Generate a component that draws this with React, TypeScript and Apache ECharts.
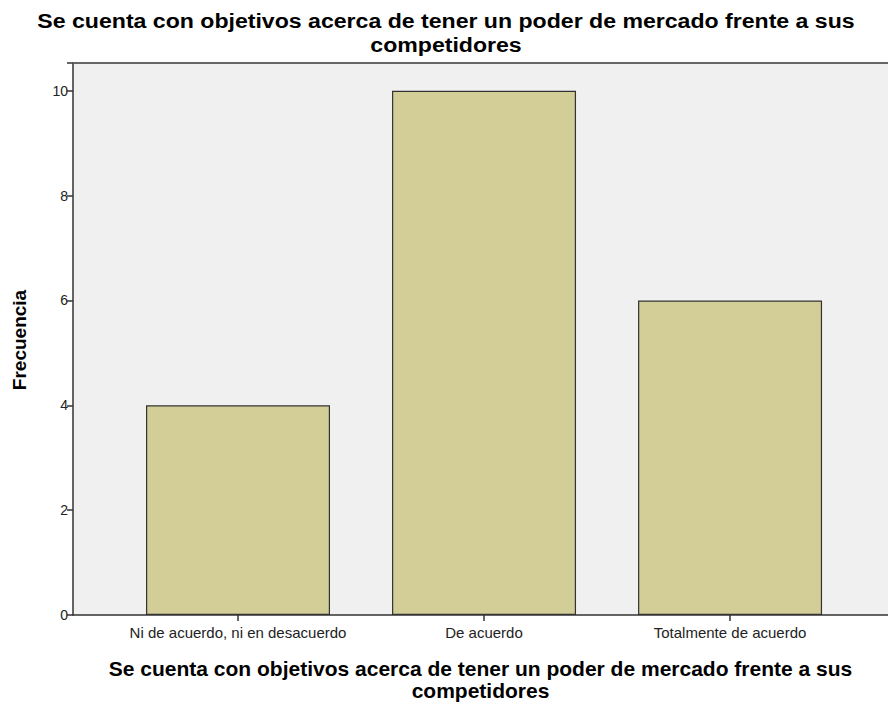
import React, { useEffect, useRef } from "react";
import * as echarts from "echarts";

const titleText = "Se cuenta con objetivos acerca de tener un poder de mercado frente a sus\ncompetidores";
const xAxisTitle = "Se cuenta con objetivos acerca de tener un poder de mercado frente a sus\ncompetidores";
const yAxisTitle = "Frecuencia";
const categories = ["Ni de acuerdo, ni en desacuerdo", "De acuerdo", "Totalmente de acuerdo"];
const frequencies = [4, 10, 6];
const yTicks = [0, 2, 4, 6, 8, 10];

export default function App() {
  const ref = useRef<HTMLDivElement>(null);
  useEffect(() => {
    if (!ref.current) return;
    const chart = echarts.init(ref.current, undefined, { renderer: "svg" });
    const font = "'Liberation Sans', Arial, sans-serif";
    chart.setOption({
      animation: false,
      backgroundColor: "#ffffff",
      grid: {
        left: 73, right: 0, top: 63, bottom: 89,
        backgroundColor: "#f0f0f0", show: true, borderWidth: 0,
        outerBoundsMode: "none", containLabel: false,
      },
      xAxis: {
        type: "value",
        min: -0.6707,
        max: 2.642,
        name: xAxisTitle,
        nameLocation: "middle",
        nameGap: 42,
        nameTextStyle: { fontFamily: font, fontSize: 21, fontWeight: "bold", color: "#000", lineHeight: 22, verticalAlign: "top", align: "center" },
        axisLine: { show: true, onZero: false, lineStyle: { color: "#333", width: 1.5 } },
        axisTick: { show: true, length: 6, lineStyle: { color: "#333", width: 1.5 }, customValues: [0, 1, 2] },
        axisLabel: {
          customValues: [0, 1, 2],
          formatter: (v: number) => categories[Math.round(v)] ?? "",
          fontFamily: font, fontSize: 15, color: "#222", margin: 10,
        },
        splitLine: { show: false },
      },
      yAxis: {
        type: "value",
        min: 0,
        max: 10.53,
        interval: 2,
        axisLine: { show: true, onZero: false, lineStyle: { color: "#333", width: 1.5 } },
        axisTick: { show: true, length: 6, lineStyle: { color: "#333", width: 1.5 } },
        axisLabel: {
          fontFamily: font, fontSize: 14, color: "#222", margin: 5,
          formatter: (v: number) => (yTicks.includes(v) ? String(v) : ""),
        },
        splitLine: { show: false },
      },
      graphic: [
        { type: "line", shape: { x1: 73, y1: 63, x2: 888, y2: 63 }, style: { stroke: "#666", lineWidth: 2 }, z: 10 },
        {
          type: "text", x: 446, y: 9, scaleX: 1.1, originX: 0,
          style: {
            text: titleText, textAlign: "center", textVerticalAlign: "top",
            fontFamily: font, fontSize: 21, fontWeight: "bold", fill: "#000", lineHeight: 24,
          },
        },
        {
          type: "text", x: 19, y: 340, rotation: Math.PI / 2,
          style: {
            text: yAxisTitle, textAlign: "center", textVerticalAlign: "middle",
            fontFamily: font, fontSize: 19, fontWeight: "bold", fill: "#000",
          },
        },
      ],
      series: [
        {
          type: "bar",
          data: frequencies.map((v, i) => [i, v]),
          barWidth: 184,
          itemStyle: { color: "#d3ce97", borderColor: "#333", borderWidth: 1.2 },
        },
      ],
    });
    return () => chart.dispose();
  }, []);
  return <div ref={ref} style={{ width: 888, height: 704, position: "absolute", left: 0, top: 0 }} />;
}
